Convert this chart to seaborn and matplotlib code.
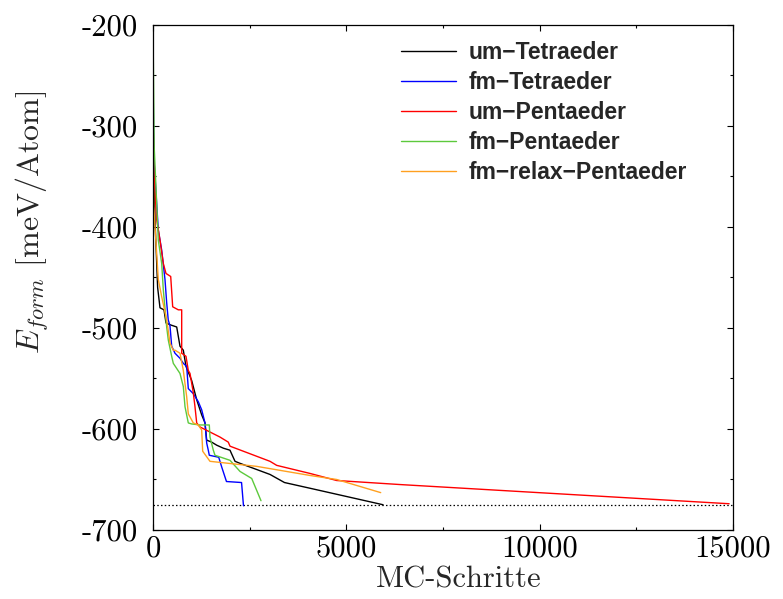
import matplotlib
matplotlib.use("Agg")
import matplotlib.pyplot as plt
import seaborn as sns
import pandas as pd
from matplotlib.ticker import MultipleLocator, FuncFormatter

# ---- data ----
um_tet_x = [0, 20, 52, 120, 181, 284, 336, 458, 613, 698, 784, 853, 1000, 1130, 1259, 1345, 1388, 1517, 1646, 1819, 1991, 2121, 2250, 3026, 3400, 4100, 5950]
um_tet_y = [-280, -340, -393, -460, -480, -482, -495, -497, -499, -518, -522, -538, -552, -571, -586, -594, -611, -613, -616, -619, -621, -632, -634, -645, -653, -659, -675]

fm_tet_x = [0, 20, 137, 225, 310, 354, 394, 440, 483, 569, 698, 784, 871, 913, 1042, 1172, 1259, 1345, 1389, 1430, 1456, 1700, 1780, 1900, 2290, 2340]
fm_tet_y = [-240, -330, -403, -423, -452, -475, -492, -498, -518, -525, -530, -535, -538, -560, -565, -573, -581, -594, -614, -621, -626, -628, -638, -652, -653, -676]

um_pen_x = [0, 30, 96, 181, 266, 336, 458, 509, 654, 742, 742, 853, 913, 957, 1042, 1086, 1130, 1216, 1733, 1947, 1991, 3026, 3199, 4060, 4751, 6388, 14900]
um_pen_y = [-290, -350, -393, -413, -436, -446, -449, -479, -482, -482, -525, -528, -542, -545, -564, -578, -594, -598, -608, -613, -617, -632, -636, -644, -651, -655, -674]

fm_pen_x = [0, 30, 137, 225, 266, 354, 396, 483, 525, 698, 784, 828, 913, 1001, 1216, 1456, 1474, 1560, 1603, 1991, 2250, 2553, 2793]
fm_pen_y = [-200, -320, -413, -436, -462, -499, -512, -528, -535, -545, -558, -578, -594, -595, -596, -596, -608, -621, -626, -631, -642, -649, -671]

fm_relax_x = [0, 20, 52, 137, 225, 354, 440, 525, 569, 698, 784, 871, 913, 1042, 1172, 1259, 1285, 1474, 2682, 4060, 4751, 5889]
fm_relax_y = [-330, -380, -400, -452, -469, -492, -515, -522, -522, -525, -542, -568, -585, -594, -596, -601, -622, -632, -637, -646, -650, -663]

ground_state = -675.5

series_names = ["um\u2212Tetraeder", "fm\u2212Tetraeder", "um\u2212Pentaeder",
                "fm\u2212Pentaeder", "fm\u2212relax\u2212Pentaeder"]
series_x = [um_tet_x, fm_tet_x, um_pen_x, fm_pen_x, fm_relax_x]
series_y = [um_tet_y, fm_tet_y, um_pen_y, fm_pen_y, fm_relax_y]
colors = ["#000000", "#0000ff", "#ff0000", "#5cc93c", "#ffa020"]

x_ticks = [0, 5000, 10000, 15000]
y_ticks = [-700, -600, -500, -400, -300, -200]

rows = []
for name, xs, ys in zip(series_names, series_x, series_y):
    for i, (xv, yv) in enumerate(zip(xs, ys)):
        rows.append({"Serie": name, "step": xv, "E": yv, "order": i})
df = pd.DataFrame(rows)

sns.set_theme(style="ticks")
plt.rcParams["axes.unicode_minus"] = False
plt.rcParams["mathtext.fontset"] = "cm"

fig = plt.figure(figsize=(7.83, 5.99), dpi=100)
ax = fig.add_axes([153 / 783, 1 - 530 / 599, 580 / 783, 505 / 599])

sns.lineplot(data=df, x="step", y="E", hue="Serie", hue_order=series_names,
             palette=colors, estimator=None, sort=False, linewidth=1.0, ax=ax)

ax.axhline(ground_state, color="black", linestyle=(0, (1.2, 1.8)), linewidth=0.9, zorder=1)

ax.set_xlim(0, 15000)
ax.set_ylim(-700, -200)
ax.set_xticks(x_ticks)
ax.set_yticks(y_ticks)
ax.xaxis.set_minor_locator(MultipleLocator(2500))
ax.yaxis.set_minor_locator(MultipleLocator(50))
ax.xaxis.set_major_formatter(FuncFormatter(lambda v, p: f"{int(v)}"))
ax.yaxis.set_major_formatter(FuncFormatter(lambda v, p: f"{int(v)}"))

ax.tick_params(which="both", direction="in", top=True, right=True, colors="black")
ax.tick_params(which="major", length=4.4, width=0.8)
ax.tick_params(which="minor", length=2.2, width=0.8)
ax.tick_params(axis="y", which="major", pad=11)
ax.tick_params(axis="x", which="major", pad=4)
for lab in ax.get_xticklabels() + ax.get_yticklabels():
    lab.set_fontfamily("cmr10")
    lab.set_fontsize(22)
for sp in ax.spines.values():
    sp.set_color("black")
    sp.set_linewidth(0.9)

ax.set_xlabel("MC-Schritte", fontfamily="cmr10", fontsize=22, labelpad=2)
ax.xaxis.label.set_x(0.527)
ax.set_ylabel("$E_{form}$ [meV/Atom]", fontfamily="cmr10", fontsize=23, labelpad=22)
ax.yaxis.label.set_y(0.61)

leg = ax.legend(loc="upper left", bbox_to_anchor=(401 / 783, 1 - 41 / 599),
                bbox_transform=fig.transFigure, frameon=False,
                prop={"family": "Liberation Sans", "weight": "bold", "size": 16.5},
                handlelength=2.4, handletextpad=0.55, labelspacing=0.31,
                borderaxespad=0, borderpad=0)
for line in leg.get_lines():
    line.set_linewidth(1.0)

fig.savefig("out.png", dpi=100)
